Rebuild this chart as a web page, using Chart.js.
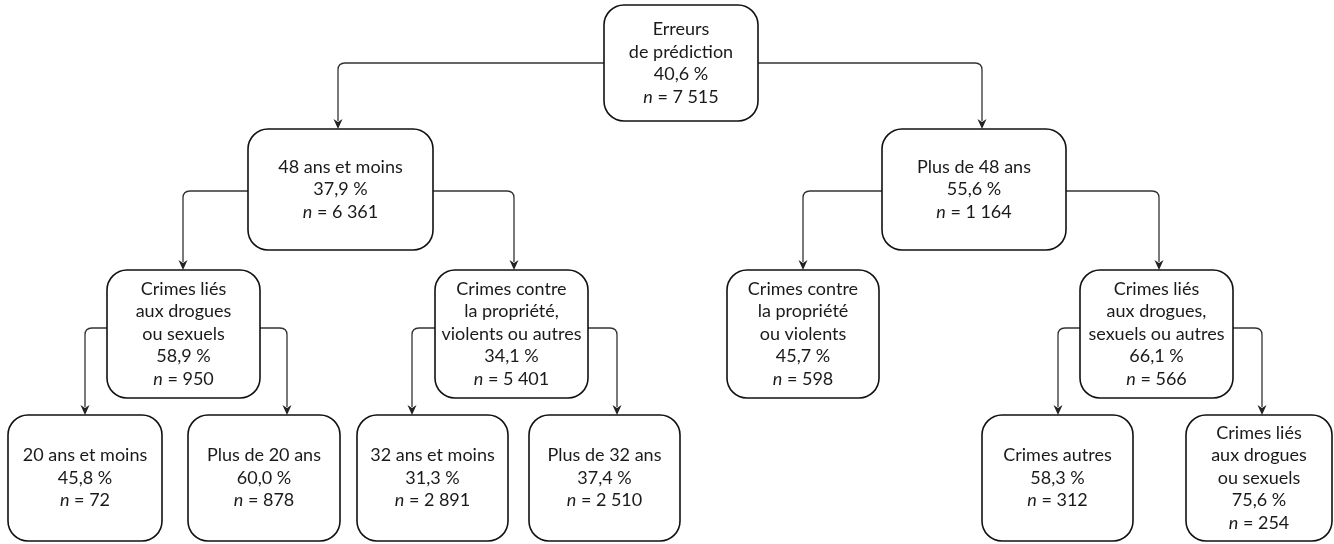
<!DOCTYPE html>
<html>
<head>
<meta charset="utf-8">
<script src="https://cdn.jsdelivr.net/npm/chart.js@4.4.0/dist/chart.umd.min.js"></script>
<style>
  html, body { margin: 0; padding: 0; background: #fff; }
  #wrap { width: 1334px; height: 544px; position: relative; }
</style>
</head>
<body>
<div id="wrap"><canvas id="treeChart"></canvas></div>
<script>
// node texts and values
var nodeLabels = [
    ['Erreurs', 'de prédiction'],
    ['48 ans et moins'],
    ['Plus de 48 ans'],
    ['Crimes liés', 'aux drogues', 'ou sexuels'],
    ['Crimes contre', 'la propriété,', 'violents ou autres'],
    ['Crimes contre', 'la propriété', 'ou violents'],
    ['Crimes liés', 'aux drogues,', 'sexuels ou autres'],
    ['20 ans et moins'],
    ['Plus de 20 ans'],
    ['32 ans et moins'],
    ['Plus de 32 ans'],
    ['Crimes autres'],
    ['Crimes liés', 'aux drogues', 'ou sexuels']
];
var errorRates = [40.6, 37.9, 55.6, 58.9, 34.1, 45.7, 66.1, 45.8, 60.0, 31.3, 37.4, 58.3, 75.6];
var sampleSizes = [7515, 6361, 1164, 950, 5401, 598, 566, 72, 878, 2891, 2510, 312, 254];
var parents = [null, 0, 0, 1, 1, 2, 2, 3, 3, 4, 4, 6, 6];

// layout: box [left, right, top, bottom] and where the arrow enters the box
var boxes = [
    [604, 758, 5, 121],
    [248, 433, 129, 250],
    [882, 1066, 129, 250],
    [107, 260, 270, 398],
    [435, 588, 270, 398],
    [727, 879, 270, 398],
    [1080, 1233, 270, 398],
    [8, 162, 415, 541],
    [188, 340, 415, 541],
    [357, 508, 415, 541],
    [529, 680, 415, 541],
    [982, 1133, 415, 541],
    [1186, 1332, 415, 541]
];
var arrowX = [null, 338, 982, 183, 514, 803, 1159, 85, 287, 412, 617, 1058, 1262];
var linkY = [63, 191, 191, 328, 328, 328, 328];

function fmtPct(v) { return v.toFixed(1).replace('.', ',') + ' %'; }
function fmtN(v) { return String(v).replace(/\B(?=(\d{3})+(?!\d))/g, '\u2005'); }

var FONT = 'Lato, "Open Sans", sans-serif';
var SIZE = 18;

var treePlugin = {
    id: 'tree',
    afterDatasetsDraw: function(chart) {
        var ctx = chart.ctx;
        var xs = chart.scales.x, ys = chart.scales.y;
        function px(v) { return xs.getPixelForValue(v); }
        function py(v) { return ys.getPixelForValue(v); }
        ctx.save();

        // connectors
        ctx.strokeStyle = '#333';
        ctx.fillStyle = '#222';
        ctx.lineWidth = 1.3;
        for (var i = 0; i < parents.length; i++) {
            var p = parents[i];
            if (p === null) continue;
            var pb = boxes[p];
            var ax = px(arrowX[i]);
            var y0 = py(linkY[p]);
            var top = py(boxes[i][2]);
            var goLeft = arrowX[i] < (pb[0] + pb[1]) / 2;
            var sx = px(goLeft ? pb[0] : pb[1]);
            var r = 7;
            var dir = goLeft ? -1 : 1;
            ctx.beginPath();
            ctx.moveTo(sx, y0);
            ctx.lineTo(ax - dir * r, y0);
            ctx.quadraticCurveTo(ax, y0, ax, y0 + r);
            ctx.lineTo(ax, top - 8);
            ctx.stroke();
            ctx.beginPath();
            ctx.moveTo(ax, top);
            ctx.lineTo(ax - 4.5, top - 10);
            ctx.lineTo(ax, top - 7);
            ctx.lineTo(ax + 4.5, top - 10);
            ctx.closePath();
            ctx.fill();
        }

        // boxes and texts
        for (var j = 0; j < boxes.length; j++) {
            var b = boxes[j];
            var l = px(b[0]), rr = px(b[1]), t = py(b[2]), bt = py(b[3]);
            ctx.beginPath();
            ctx.roundRect(l, t, rr - l, bt - t, 20);
            ctx.fillStyle = '#fff';
            ctx.fill();
            ctx.lineWidth = 1.6;
            ctx.strokeStyle = '#111';
            ctx.stroke();

            var lines = nodeLabels[j].concat([fmtPct(errorRates[j])]);
            var total = lines.length + 1;
            var lh = 22.5;
            var cx = (l + rr) / 2;
            var cy = (t + bt) / 2;
            var startY = cy - (total - 1) * lh / 2;
            ctx.fillStyle = '#1a1a1a';
            ctx.textBaseline = 'middle';
            ctx.textAlign = 'center';
            ctx.font = SIZE + 'px ' + FONT;
            for (var k = 0; k < lines.length; k++) {
                ctx.fillText(lines[k], cx, startY + k * lh);
            }
            // italic n line
            var ny = startY + lines.length * lh;
            var rest = ' = ' + fmtN(sampleSizes[j]);
            ctx.font = 'italic ' + SIZE + 'px ' + FONT;
            var wN = ctx.measureText('n').width;
            ctx.font = SIZE + 'px ' + FONT;
            var wR = ctx.measureText(rest).width;
            var x0 = cx - (wN + wR) / 2;
            ctx.textAlign = 'left';
            ctx.font = 'italic ' + SIZE + 'px ' + FONT;
            ctx.fillText('n', x0, ny);
            ctx.font = SIZE + 'px ' + FONT;
            ctx.fillText(rest, x0 + wN, ny);
        }
        ctx.restore();
    }
};

var centers = boxes.map(function(b) { return { x: (b[0] + b[1]) / 2, y: (b[2] + b[3]) / 2 }; });

var chart = new Chart(document.getElementById('treeChart').getContext('2d'), {
    type: 'scatter',
    data: {
        datasets: [{
            label: 'nodes',
            data: centers,
            pointRadius: 0
        }]
    },
    options: {
        responsive: true,
        maintainAspectRatio: false,
        animation: false,
        layout: { padding: 0 },
        plugins: { legend: { display: false }, tooltip: { enabled: false } },
        scales: {
            x: { type: 'linear', min: 0, max: 1334, display: false },
            y: { type: 'linear', min: 0, max: 544, reverse: true, display: false }
        }
    },
    plugins: [treePlugin]
});
</script>
</body>
</html>
